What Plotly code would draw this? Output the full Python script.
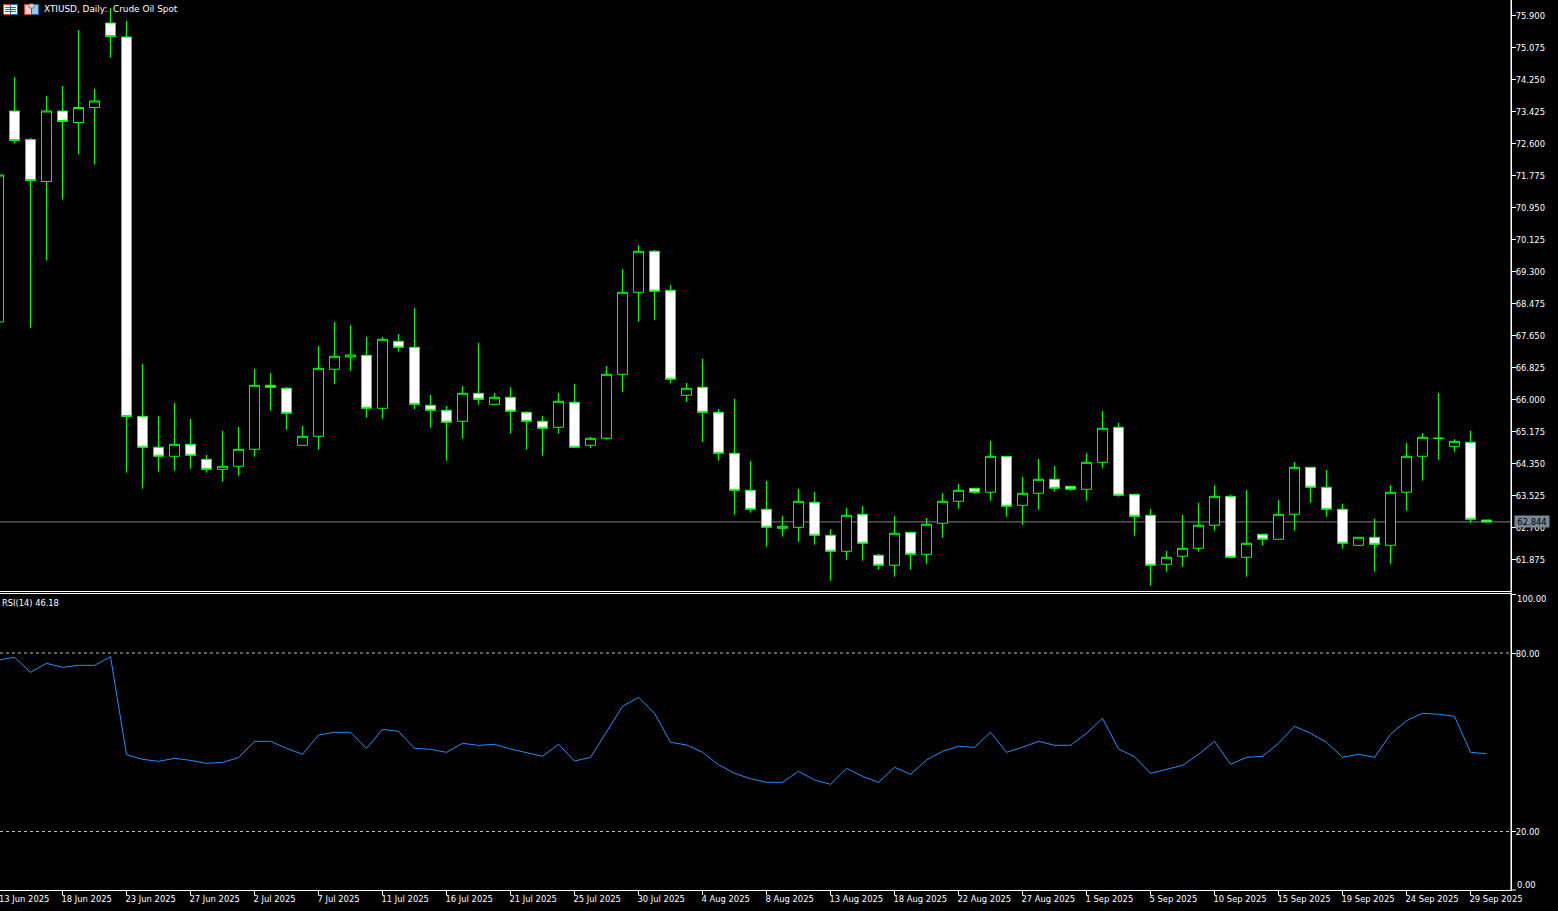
import plotly.graph_objects as go

# ---------- data ----------
bar_index = list(range(94))
opens = [67.998,73.438,72.703,71.620,73.438,73.141,73.528,75.707,75.346,65.567,64.768,64.536,64.845,64.458,64.200,64.278,64.716,66.366,66.289,64.819,65.051,66.779,67.096,67.140,65.773,67.500,67.346,65.850,65.722,65.438,66.160,65.876,66.057,65.670,65.438,65.283,65.928,64.819,65.000,66.650,68.764,69.821,68.815,66.108,66.315,65.670,64.613,63.659,63.169,62.679,62.705,63.350,62.499,62.086,63.040,61.983,61.726,62.576,62.009,62.808,63.375,63.711,63.608,64.536,63.272,63.582,63.943,63.762,63.685,64.381,65.283,63.556,63.015,61.751,61.958,62.164,62.757,63.504,61.932,62.525,62.396,63.040,64.252,63.736,63.169,62.241,62.447,62.241,63.608,64.536,65.000,64.793,64.897,62.893]
highs = [71.788,74.314,72.742,73.825,74.082,75.526,74.005,76.093,75.758,66.915,65.575,65.910,65.497,64.569,65.188,65.291,66.786,66.683,66.322,65.317,67.379,67.998,67.921,67.611,67.611,67.689,68.359,66.116,65.832,66.348,67.457,66.168,66.315,65.696,65.575,66.168,66.400,65.033,66.864,69.364,69.983,69.854,68.952,66.425,67.044,65.755,66.013,64.414,63.899,62.997,63.693,63.615,62.654,63.203,63.254,62.017,62.997,62.576,62.945,63.589,63.822,63.711,64.930,64.536,64.002,64.466,64.286,63.762,64.621,65.704,65.394,63.556,63.177,62.094,63.022,63.332,63.796,63.538,63.667,62.525,63.409,64.389,64.252,64.182,63.306,62.447,62.919,63.796,64.879,65.136,66.168,64.974,65.188,62.893]
lows = [67.998,72.600,67.843,69.584,71.156,72.316,72.059,74.817,64.113,63.700,64.139,64.164,64.216,64.113,63.881,64.035,64.525,65.711,65.221,64.819,64.706,66.407,66.742,65.531,65.505,67.232,65.755,65.273,64.422,64.989,65.866,65.876,65.118,64.706,64.551,65.118,64.768,64.750,64.964,66.193,68.006,68.057,66.425,65.936,64.904,64.422,63.030,63.082,62.205,62.463,62.334,62.257,61.328,61.870,61.844,61.612,61.432,61.612,61.767,62.437,63.185,63.571,63.391,62.978,62.772,63.159,63.623,63.649,63.391,64.242,63.494,62.489,61.200,61.561,61.689,62.076,62.618,61.932,61.432,62.231,62.396,62.618,63.339,62.978,62.154,62.241,61.561,61.767,63.133,63.907,64.448,64.654,62.816,62.824]
closes = [71.788,72.677,71.646,73.438,73.167,73.528,73.696,75.358,65.562,64.768,64.536,64.845,64.561,64.200,64.278,64.716,66.366,66.315,65.644,65.051,66.804,67.114,67.147,65.773,67.552,67.346,65.876,65.722,65.412,66.160,66.005,66.057,65.696,65.438,65.258,65.954,64.768,65.000,66.650,68.764,69.821,68.790,66.521,66.289,65.670,64.613,63.659,63.169,62.705,62.731,63.375,62.499,62.086,63.015,62.293,61.726,62.551,62.009,62.783,63.375,63.659,63.608,64.536,63.247,63.582,63.943,63.711,63.685,64.381,65.258,63.530,62.989,61.726,61.932,62.164,62.757,63.504,61.932,62.293,62.396,63.040,64.252,63.736,63.169,62.293,62.447,62.267,63.608,64.536,65.025,65.000,64.922,62.911,62.844]
rsi_values = [77.65,78.54,73.50,76.53,75.18,75.85,75.85,78.77,45.83,44.26,43.59,44.59,43.92,42.91,43.25,44.82,50.31,50.31,47.96,45.94,52.44,53.33,53.33,47.96,54.34,53.67,47.96,47.62,46.61,49.64,48.96,49.30,47.73,46.49,45.28,49.31,43.70,44.94,53.55,62.08,65.11,59.73,49.98,49.08,46.62,42.45,39.56,37.75,36.54,36.54,40.24,37.31,35.87,41.24,38.55,36.54,41.58,39.23,44.03,46.96,48.64,48.30,53.34,46.62,48.30,50.32,48.97,48.97,53.01,58.05,47.73,45.14,39.56,40.91,42.25,45.95,50.32,42.59,44.94,45.28,49.65,55.36,53.01,49.98,44.94,45.95,44.94,52.67,57.24,59.73,59.39,58.72,46.62,46.18]
date_tick_bars = [4*k for k in range(1, 24)]
date_labels = ["18 Jun 2025","23 Jun 2025","27 Jun 2025","2 Jul 2025","7 Jul 2025","11 Jul 2025","16 Jul 2025","21 Jul 2025","25 Jul 2025","30 Jul 2025","4 Aug 2025","8 Aug 2025","13 Aug 2025","18 Aug 2025","22 Aug 2025","27 Aug 2025","1 Sep 2025","5 Sep 2025","10 Sep 2025","15 Sep 2025","19 Sep 2025","24 Sep 2025","29 Sep 2025"]
first_date_label = "13 Jun 2025"
price_ticks = [75.900,75.075,74.250,73.425,72.600,71.775,70.950,70.125,69.300,68.475,67.650,66.825,66.000,65.175,64.350,63.525,62.700,61.875]
last_price = 62.844
rsi_ticks = [80, 20]
rsi_edge_ticks = [100, 0]
title_text = "XTIUSD, Daily:  Crude Oil Spot"
rsi_title = "RSI(14) 46.18"

# ---------- canvas geometry ----------
W, H, PLOT_W, PLOT_H = 1558, 911, 1511, 890
PRICE_BOTTOM_PX, RSI_TOP_PX = 591, 594
FONT = "DejaVu Sans"
FS = 8.4
GREEN, WHITE = "#00FF00", "#FFFFFF"

def px(x):
    return x / PLOT_W

def py(y):
    return 1 - y / PLOT_H

def box(x0, y0, x1, y1, fill=None, line=None):
    return dict(type="rect", xref="paper", yref="paper", x0=px(x0), x1=px(x1), y0=py(y0), y1=py(y1),
                fillcolor=fill or "rgba(0,0,0,0)", line=dict(color=line or "rgba(0,0,0,0)", width=1 if line else 0))

fig = go.Figure()
fig.add_trace(go.Candlestick(
    x=bar_index, open=opens, high=highs, low=lows, close=closes, xaxis="x", yaxis="y",
    whiskerwidth=0,
    increasing=dict(line=dict(color=GREEN, width=1), fillcolor="#000000"),
    decreasing=dict(line=dict(color=GREEN, width=1), fillcolor=WHITE),
    hoverinfo="skip", showlegend=False))
fig.add_trace(go.Scatter(x=bar_index, y=rsi_values, mode="lines", xaxis="x2", yaxis="y2",
                         line=dict(color="#1E90FF", width=1), hoverinfo="skip", showlegend=False))

shapes = [
    dict(type="line", xref="paper", yref="y", x0=0, x1=1, y0=last_price, y1=last_price,
         line=dict(color="#808080", width=1), layer="below"),
    dict(type="line", xref="paper", yref="y2", x0=0, x1=1, y0=80, y1=80, line=dict(color="#C0C0C0", width=1, dash="3px,3px")),
    dict(type="line", xref="paper", yref="y2", x0=0, x1=1, y0=20, y1=20, line=dict(color="#C0C0C0", width=1, dash="3px,3px")),
    dict(type="line", xref="paper", yref="paper", x0=1, x1=1, y0=0, y1=1, line=dict(color=WHITE, width=1)),
    # short ticks for the 100 and 0 levels, which sit on the pane's edges
    dict(type="line", xref="paper", yref="paper", x0=1, x1=px(1516), y0=py(594.5), y1=py(594.5), line=dict(color=WHITE, width=1)),
    dict(type="line", xref="paper", yref="paper", x0=1, x1=px(1516), y0=py(890), y1=py(890), line=dict(color=WHITE, width=1)),
    # toolbar-style icons at top left
    box(3.5, 4.5, 10.5, 14.5, "#FFFFFF", "#E8362C"),
    box(10.5, 4.5, 17.5, 14.5, "#FFFFFF", "#0F6CB4"),
    box(5, 7, 10, 8, "#E8362C"), box(5, 9, 10, 10, "#E8362C"), box(5, 11, 10, 12, "#E8362C"),
    box(11, 7, 16, 8, "#0F6CB4"), box(11, 9, 16, 10, "#0F6CB4"), box(11, 11, 16, 12, "#0F6CB4"),
    box(24.5, 4.5, 31.5, 14.5, "#F8D0C8", "#E8362C"),
    box(31.5, 4.5, 38.5, 14.5, "#90CDF4", "#0F6CB4"),
    box(29, 4, 34, 8, "#D8D8D8", "#808080"),
]

annotations = [
    dict(xref="paper", yref="paper", x=px(42), y=py(9.5), text=title_text, showarrow=False, xanchor="left", yanchor="middle",
         font=dict(family=FONT, size=8.9, color=WHITE)),
    dict(xref="paper", yref="paper", x=px(-0.5), y=py(603), text=rsi_title, showarrow=False, xanchor="left", yanchor="middle",
         font=dict(family=FONT, size=8.3, color=WHITE)),
    dict(xref="paper", yref="paper", x=px(-3.4), y=py(899), text=first_date_label, showarrow=False, xanchor="left", yanchor="middle",
         font=dict(family=FONT, size=FS, color=WHITE)),
    dict(xref="paper", yref="y", x=px(1514), y=last_price, text=f"{last_price:.3f}", showarrow=False, xanchor="left", yanchor="middle",
         width=34, height=11, bgcolor="#778899", borderpad=0, font=dict(family=FONT, size=FS, color="#000000")),
    dict(xref="paper", yref="paper", x=px(1515), y=py(598.5), text=f"{rsi_edge_ticks[0]:.2f}", showarrow=False, xanchor="left",
         yanchor="middle", font=dict(family=FONT, size=FS, color=WHITE)),
    dict(xref="paper", yref="paper", x=px(1515), y=py(884.5), text=f"{rsi_edge_ticks[1]:.2f}", showarrow=False, xanchor="left",
         yanchor="middle", font=dict(family=FONT, size=FS, color=WHITE)),
]

axis_font = dict(family=FONT, size=FS, color=WHITE)
x_range = [1.5 / 16, (PLOT_W + 1.5) / 16]
# price scale: 38.788 px per dollar, 66.000 at y=399.5
price_range = [66 - (PRICE_BOTTOM_PX - 399.5) / 38.788, 66 + 399.5 / 38.788]
# rsi scale: 2.975 px per point, 100 at y=593.5
rsi_range = [100 - (PLOT_H - 593.5) / 2.975, 100 - (RSI_TOP_PX - 593.5) / 2.975]

fig.update_layout(
    width=W, height=H, autosize=False,
    margin=dict(l=0, r=W - PLOT_W, t=0, b=H - PLOT_H, pad=0),
    paper_bgcolor="#000000", plot_bgcolor="#000000",
    showlegend=False, boxgap=0.375, boxgroupgap=0, dragmode=False,
    shapes=shapes, annotations=annotations,
    xaxis=dict(domain=[0, 1], anchor="y", range=x_range, showgrid=False, zeroline=False, showline=True, linecolor=WHITE,
               linewidth=1, ticks="", showticklabels=False, rangeslider=dict(visible=False)),
    yaxis=dict(domain=[py(PRICE_BOTTOM_PX), 1], anchor="x", side="right", range=price_range, showgrid=False, zeroline=False,
               showline=True, linecolor=WHITE, linewidth=1, ticks="outside", ticklen=4, tickcolor=WHITE, tickwidth=1,
               ticklabelstandoff=-2, ticklabelshift=1,
               tickmode="array", tickvals=price_ticks, ticktext=[f"{v:.3f}" for v in price_ticks], tickfont=axis_font),
    xaxis2=dict(domain=[0, 1], anchor="y2", range=x_range, showgrid=False, zeroline=False, showline=True, mirror=True,
                linecolor=WHITE, linewidth=1, ticks="outside", ticklen=4, tickcolor=WHITE, tickwidth=1, tickmode="array",
                tickvals=date_tick_bars, ticktext=date_labels, tickangle=0, tickfont=axis_font,
                ticklabelposition="outside right", ticklabelshift=-2, ticklabelstandoff=1),
    yaxis2=dict(domain=[0, py(RSI_TOP_PX)], anchor="x2", side="right", range=rsi_range, showgrid=False, zeroline=False,
                showline=True, linecolor=WHITE, linewidth=1, ticks="outside", ticklen=4, tickcolor=WHITE, tickwidth=1,
                ticklabelstandoff=-2, ticklabelshift=1,
                tickmode="array", tickvals=rsi_ticks,
                ticktext=[f"{v:.2f}" for v in rsi_ticks], tickfont=axis_font),
)

fig.write_html("out.html", config={"displayModeBar": False},
               post_script="document.body.style.margin='0';document.body.style.background='#000';")
